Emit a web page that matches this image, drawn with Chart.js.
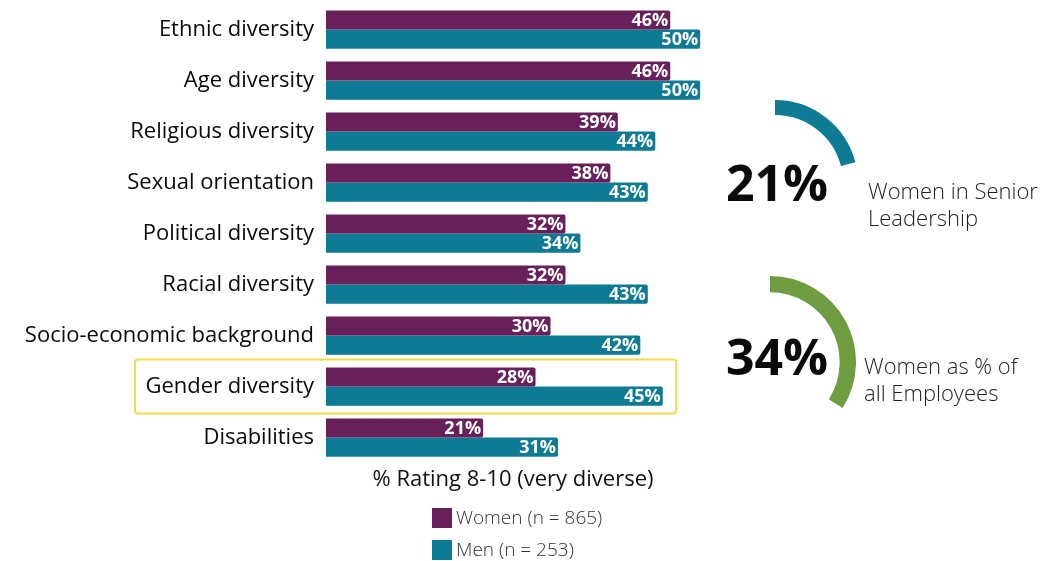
<!DOCTYPE html>
<html>
<head>
<meta charset="utf-8">
<script src="https://cdn.jsdelivr.net/npm/chart.js@4.4.1/dist/chart.umd.min.js"></script>
<style>
    body { margin: 0; background: #fff; }
    #wrap { position: relative; width: 1054px; height: 561px; }
    #wrap canvas { position: absolute; }
    #chartBarras { left: 0; top: 0; }
    #gauge1 { left: 692px; top: 100px; }
    #gauge2 { left: 684px; top: 276px; }
</style>
</head>
<body>
<div id="wrap">
    <canvas id="chartBarras" width="1054" height="561"></canvas>
    <canvas id="gauge1" width="166" height="166"></canvas>
    <canvas id="gauge2" width="172" height="172"></canvas>
</div>
<script>
const categorias = [
    "Ethnic diversity",
    "Age diversity",
    "Religious diversity",
    "Sexual orientation",
    "Political diversity",
    "Racial diversity",
    "Socio-economic background",
    "Gender diversity",
    "Disabilities",
];
const valoresMulheres = [46, 46, 39, 38, 32, 32, 30, 28, 21];
const valoresHomens = [50, 50, 44, 43, 34, 43, 42, 45, 31];
const legendas = ["Women (n = 865)", "Men (n = 253)"];
const tituloEixo = "% Rating 8-10 (very diverse)";
const destaque = "Gender diversity";

const gaugeValores = [21, 34];
const gaugeTextos = [
    ["Women in Senior", "Leadership"],
    ["Women as % of", "all Employees"],
];

const corMulheres = "#68205b";
const corHomens = "#0d7b93";
const corVerde = "#6f9c41";
const fonte = "'Open Sans', 'Noto Sans', sans-serif";

// rótulos de valor dentro da ponta das barras
const rotulosBarras = {
    id: "rotulosBarras",
    afterDatasetsDraw(chart) {
        const ctx = chart.ctx;
        ctx.save();
        ctx.fillStyle = "#fff";
        ctx.font = "bold 18px " + fonte;
        ctx.textAlign = "right";
        ctx.textBaseline = "middle";
        chart.data.datasets.forEach((ds, i) => {
            chart.getDatasetMeta(i).data.forEach((bar, j) => {
                ctx.fillText(ds.data[j] + "%", bar.x - 2, bar.y + 1);
            });
        });
        ctx.restore();
    },
};

// caixa amarela, título do eixo, legenda e textos dos indicadores
const extras = {
    id: "extras",
    afterDraw(chart) {
        const ctx = chart.ctx;
        const y = chart.scales.y;
        const x = chart.scales.x;
        ctx.save();

        const idx = categorias.indexOf(destaque);
        const cy = y.getPixelForValue(idx);
        ctx.strokeStyle = "#f6d94c";
        ctx.lineWidth = 2;
        ctx.beginPath();
        ctx.roundRect(135, cy - 27, x.getPixelForValue(46.8) - 135, 54, 3);
        ctx.stroke();

        ctx.fillStyle = "#111";
        ctx.font = "22px " + fonte;
        ctx.textAlign = "center";
        ctx.textBaseline = "middle";
        ctx.fillText(tituloEixo, 513, 480);

        [corMulheres, corHomens].forEach((cor, i) => {
            const ly = 518 + i * 32;
            ctx.fillStyle = cor;
            ctx.fillRect(432, ly - 10, 20, 20);
            ctx.fillStyle = "#333";
            ctx.font = "300 19px " + fonte;
            ctx.textAlign = "left";
            ctx.fillText(legendas[i], 456, ly + 1);
        });

        const posNum = [187, 361];
        const posTxt = [
            [868, 193],
            [864, 368],
        ];
        gaugeValores.forEach((v, i) => {
            ctx.fillStyle = "#0a0a0a";
            ctx.font = "bold 50px " + fonte;
            ctx.textAlign = "center";
            ctx.fillText(v + "%", 777, posNum[i]);
            ctx.fillStyle = "#222";
            ctx.font = "300 22px " + fonte;
            ctx.textAlign = "left";
            gaugeTextos[i].forEach((linha, k) => {
                ctx.fillText(linha, posTxt[i][0], posTxt[i][1] + k * 27);
            });
        });
        ctx.restore();
    },
};

new Chart(document.getElementById("chartBarras").getContext("2d"), {
    type: "bar",
    data: {
        labels: categorias,
        datasets: [
            {
                label: legendas[0],
                data: valoresMulheres,
                backgroundColor: corMulheres,
                borderRadius: { topRight: 2, bottomRight: 2 },
                borderSkipped: false,
                categoryPercentage: 0.75,
                barPercentage: 1,
            },
            {
                label: legendas[1],
                data: valoresHomens,
                backgroundColor: corHomens,
                borderRadius: { topRight: 2, bottomRight: 2 },
                borderSkipped: false,
                categoryPercentage: 0.75,
                barPercentage: 1,
            },
        ],
    },
    options: {
        indexAxis: "y",
        responsive: false,
        animation: false,
        events: [],
        layout: { padding: { top: 4, bottom: 98, right: 279, left: 0 } },
        plugins: {
            legend: { display: false },
            tooltip: { enabled: false },
        },
        scales: {
            x: { display: false, min: 0, max: 60 },
            y: {
                afterFit: (scale) => {
                    scale.width = 326;
                    scale.paddingTop = 0;
                    scale.paddingBottom = 0;
                },
                grid: { display: false, drawTicks: false },
                border: { display: false },
                ticks: {
                    color: "#0a0a0a",
                    padding: 12,
                    font: { family: fonte, size: 22 },
                },
            },
        },
    },
    plugins: [rotulosBarras, extras],
});

function criarGauge(id, valor, cor, cutout) {
    new Chart(document.getElementById(id).getContext("2d"), {
        type: "doughnut",
        data: {
            labels: ["valor", "resto"],
            datasets: [
                {
                    data: [valor, 100 - valor],
                    backgroundColor: [cor, "rgba(0,0,0,0)"],
                    borderWidth: 0,
                },
            ],
        },
        options: {
            responsive: false,
            animation: false,
            events: [],
            cutout: cutout,
            plugins: {
                legend: { display: false },
                tooltip: { enabled: false },
            },
        },
    });
}

criarGauge("gauge1", gaugeValores[0], corHomens, "82%");
criarGauge("gauge2", gaugeValores[1], corVerde, "81%");
</script>
</body>
</html>
